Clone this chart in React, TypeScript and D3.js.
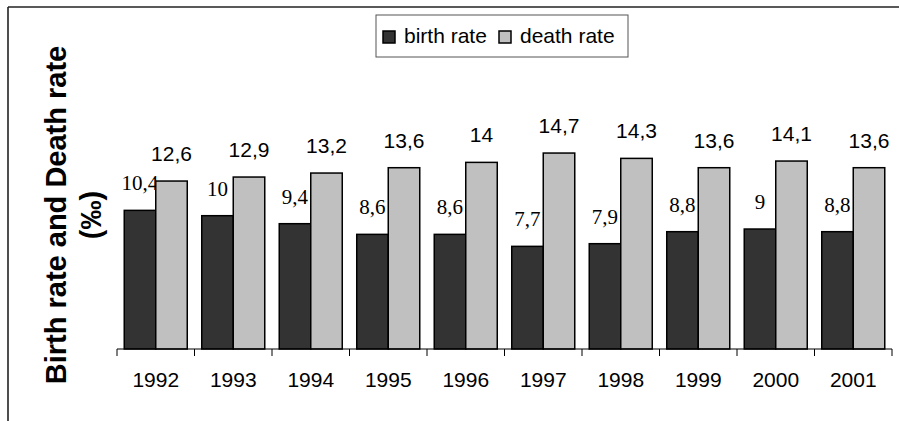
import React from "react";
import * as d3 from "d3";

const years = ["1992", "1993", "1994", "1995", "1996", "1997", "1998", "1999", "2000", "2001"];
const birthRate = [10.4, 10, 9.4, 8.6, 8.6, 7.7, 7.9, 8.8, 9, 8.8];
const deathRate = [12.6, 12.9, 13.2, 13.6, 14, 14.7, 14.3, 13.6, 14.1, 13.6];
const seriesNames = ["birth rate", "death rate"];
const seriesColors = ["#333333", "#c0c0c0"];

const W = 899;
const H = 421;
const fmt = (v: number) => String(v).replace(".", ",");

export default function App() {
  const x0 = d3.scaleBand<string>().domain(years).range([117, 892]).padding(0);
  const x1 = d3
    .scaleBand<string>()
    .domain(seriesNames)
    .range([0, x0.bandwidth()])
    .paddingInner(0)
    .paddingOuter(0.23);
  const y = d3.scaleLinear().domain([0, 16]).range([349, 349 - 16 * 13.33]);
  const series = [birthRate, deathRate];
  const sans = "Arial, 'Liberation Sans', sans-serif";
  const serif = "'Times New Roman', 'Liberation Serif', serif";

  return (
    <svg
      width={W}
      height={H}
      style={{ position: "absolute", left: 0, top: 0, background: "#fff" }}
    >
      <rect x={0} y={0} width={W} height={H} fill="#fff" />
      {/* outer frame (top and left edges visible) */}
      <line x1={8} y1={7} x2={W} y2={7} stroke="#222" strokeWidth={1.6} />
      <line x1={8} y1={7} x2={8} y2={H} stroke="#222" strokeWidth={1.6} />

      {/* legend */}
      <rect x={376} y={15} width={252} height={42} fill="#fff" stroke="#555" strokeWidth={1} />
      {seriesNames.map((s, i) => {
        const sx = i === 0 ? 383 : 499;
        return (
          <g key={s}>
            <rect x={sx} y={31} width={12} height={12} fill={seriesColors[i]} stroke="#000" strokeWidth={1.5} />
            <text x={sx + 21} y={43} fontFamily={sans} fontSize={21} fill="#000">
              {s}
            </text>
          </g>
        );
      })}

      {/* y-axis title */}
      <g transform="translate(66,215) rotate(-90)">
        <text x={0} y={0} textAnchor="middle" fontFamily={sans} fontWeight="bold" fontSize={29} fill="#000">
          Birth rate and Death rate
        </text>
        <text x={0} y={35} textAnchor="middle" fontFamily={sans} fontWeight="bold" fontSize={29} fill="#000">
          (‰)
        </text>
      </g>

      {/* bars */}
      {years.map((yr, i) => (
        <g key={yr} transform={`translate(${x0(yr)},0)`}>
          {seriesNames.map((s, j) => {
            const v = series[j][i];
            const bx = x1(s)!;
            return (
              <g key={s}>
                <rect
                  x={bx}
                  y={y(v)}
                  width={x1.bandwidth()}
                  height={y(0) - y(v)}
                  fill={seriesColors[j]}
                  stroke="#000"
                  strokeWidth={1.5}
                />
                <text
                  x={bx + x1.bandwidth() / 2}
                  y={y(v) - 20}
                  textAnchor="middle"
                  fontFamily={j === 0 ? serif : sans}
                  fontSize={21}
                  fill="#000"
                >
                  {fmt(v)}
                </text>
              </g>
            );
          })}
        </g>
      ))}

      {/* x axis */}
      <line x1={117} y1={349} x2={892} y2={349} stroke="#000" strokeWidth={1.2} />
      {[...years.map((yr) => x0(yr)!), 892].map((tx, i) => (
        <line key={i} x1={tx} y1={349} x2={tx} y2={356} stroke="#000" strokeWidth={1} />
      ))}
      {years.map((yr) => (
        <text
          key={yr}
          x={x0(yr)! + x0.bandwidth() / 2}
          y={387}
          textAnchor="middle"
          fontFamily={sans}
          fontSize={21}
          fill="#000"
        >
          {yr}
        </text>
      ))}
    </svg>
  );
}
